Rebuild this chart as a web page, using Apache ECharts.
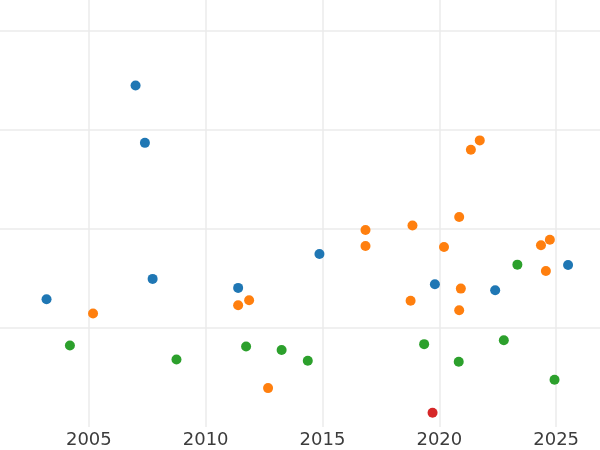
<!DOCTYPE html>
<html>
<head>
<meta charset="utf-8">
<script src="https://cdn.jsdelivr.net/npm/echarts@6/dist/echarts.min.js"></script>
<style>html,body{margin:0;padding:0;background:#fff}#chart{width:600px;height:450px}</style>
</head>
<body>
<div id="chart"></div>
<script>
// Data
const blueYears  = [2003.19, 2007.00, 2007.40, 2007.73, 2011.39, 2014.87, 2019.81, 2022.39, 2025.51];
const blueValues = [1.291, 3.449, 2.870, 1.496, 1.405, 1.748, 1.442, 1.382, 1.637];

const orangeYears  = [2005.18, 2011.39, 2011.86, 2012.67, 2016.84, 2016.84, 2018.85, 2018.77, 2020.20, 2020.85, 2020.92, 2020.85, 2021.35, 2021.73, 2024.35, 2024.73, 2024.56];
const orangeValues = [1.146, 1.230, 1.281, 0.393, 1.990, 1.829, 2.035, 1.276, 1.818, 2.121, 1.398, 1.180, 2.800, 2.895, 1.836, 1.892, 1.576];

const greenYears  = [2004.19, 2008.75, 2011.73, 2013.25, 2014.37, 2019.35, 2020.83, 2022.76, 2023.34, 2024.93];
const greenValues = [0.823, 0.682, 0.813, 0.777, 0.669, 0.837, 0.659, 0.877, 1.640, 0.477];

const redYears  = [2019.71];
const redValues = [0.144];

const xTickLabels = [2000, 2005, 2010, 2015, 2020, 2025, 2030];

function pairs(xs, ys) { return xs.map((x, i) => [x, ys[i]]); }

const chart = echarts.init(document.getElementById('chart'));
const gridLine = { show: true, lineStyle: { color: '#ebebeb', width: 1.5 } };
function mk(name, xs, ys, color) {
  return { name: name, type: 'scatter', data: pairs(xs, ys), symbolSize: 10,
           itemStyle: { color: color, opacity: 1 }, emphasis: { disabled: true } };
}
chart.setOption({
  animation: false,
  backgroundColor: '#ffffff',
  grid: { left: -28, right: -73, top: -68, bottom: 23, outerBoundsMode: 'none', containLabel: false },
  xAxis: {
    type: 'value', min: xTickLabels[0], max: xTickLabels[xTickLabels.length - 1], interval: 5,
    axisLine: { show: false }, axisTick: { show: false },
    axisLabel: { color: '#3c3c3c', fontSize: 18, fontFamily: 'DejaVu Sans', margin: 4,
                 formatter: v => String(v) },
    splitLine: gridLine
  },
  yAxis: {
    type: 'value', min: 0, max: 5, interval: 1,
    axisLine: { show: false }, axisTick: { show: false }, axisLabel: { show: false },
    splitLine: { show: true, showMinLine: false, lineStyle: { color: '#ebebeb', width: 1.5 } }
  },
  series: [
    mk('blue', blueYears, blueValues, '#1f77b4'),
    mk('orange', orangeYears, orangeValues, '#ff7f0e'),
    mk('green', greenYears, greenValues, '#2ca02c'),
    mk('red', redYears, redValues, '#d62728')
  ]
});
</script>
</body>
</html>
